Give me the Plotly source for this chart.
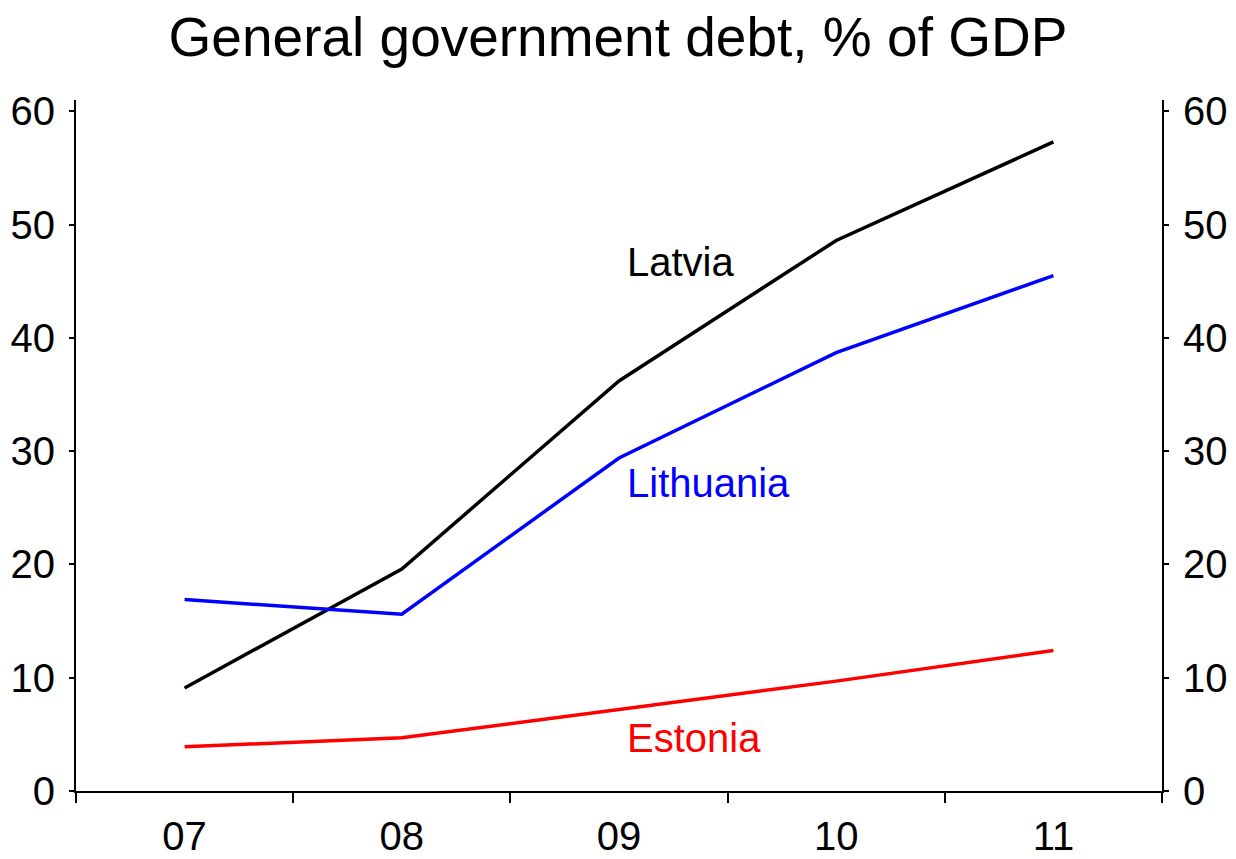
import plotly.graph_objects as go

years = ["07", "08", "09", "10", "11"]
latvia = [9.1, 19.6, 36.2, 48.6, 57.3]
lithuania = [16.9, 15.6, 29.4, 38.7, 45.5]
estonia = [3.9, 4.7, 7.2, 9.7, 12.4]

FONT = "Liberation Sans, Arial, sans-serif"

fig = go.Figure()
fig.add_trace(go.Scatter(x=years, y=latvia, mode="lines", line=dict(color="black", width=3.5), name="Latvia"))
fig.add_trace(go.Scatter(x=years, y=lithuania, mode="lines", line=dict(color="#0000FF", width=3.5), name="Lithuania"))
fig.add_trace(go.Scatter(x=years, y=estonia, mode="lines", line=dict(color="#FF0000", width=3.5), name="Estonia",
                         yaxis="y2"))

labels = [("Latvia", 46.7, "black"), ("Lithuania", 27.2, "#0000FF"), ("Estonia", 4.7, "#FF0000")]
for txt, yv, col in labels:
    fig.add_annotation(x=2, y=yv, xref="x", yref="y", text=txt, showarrow=False, xanchor="left", yanchor="middle",
                       xshift=6, font=dict(family=FONT, size=40, color=col))

axis_common = dict(range=[0, 61], tickvals=[0, 10, 20, 30, 40, 50, 60], showline=True, linecolor="black",
                   linewidth=2, ticks="outside", ticklen=5, tickwidth=2, tickcolor="black", showgrid=False,
                   zeroline=False, ticklabelstandoff=6, automargin=False,
                   tickfont=dict(family=FONT, size=40, color="black"))

fig.update_layout(
    width=1236, height=859,
    margin=dict(l=76, r=74, t=100, b=68),
    paper_bgcolor="white", plot_bgcolor="white",
    showlegend=False,
    title=dict(text="General government debt, % of GDP", x=0.5, xanchor="center", y=0.957, yanchor="middle",
               font=dict(family=FONT, size=55, color="black")),
    xaxis=dict(type="category", range=[-0.5, 4.5], showline=True, linecolor="black", linewidth=2,
               ticks="outside", tickson="boundaries", ticklen=10, tickwidth=2, tickcolor="black",
               showgrid=False, zeroline=False, ticklabelstandoff=9, automargin=False,
               tickfont=dict(family=FONT, size=40, color="black")),
    yaxis=dict(**axis_common),
    yaxis2=dict(**axis_common, overlaying="y", side="right", anchor="x"),
)

fig.write_html("out.html")
